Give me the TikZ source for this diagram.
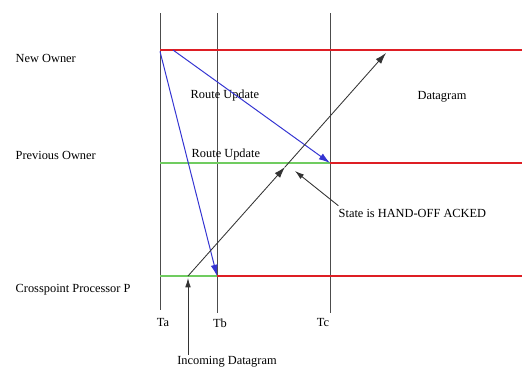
\documentclass[tikz,border=0pt]{standalone}
\usepackage{fontspec}
\setmainfont{Liberation Serif}
\usetikzlibrary{arrows.meta, positioning, calc}
\definecolor{busyred}{RGB}{222,30,36}
\definecolor{idlegreen}{RGB}{112,204,96}
\definecolor{msgblue}{RGB}{52,52,210}

\begin{document}
\begin{tikzpicture}[x=0.025cm, y=-0.025cm,
  every node/.style={font=\fontsize{8.8}{10}\selectfont, inner sep=1pt},
  timeline/.style={draw=black!70, line width=0.6pt},
  busy/.style={draw=busyred, line width=2pt},
  idle/.style={draw=idlegreen, line width=0.9pt},
  msg/.style={draw=msgblue, line width=0.7pt, -{Latex[length=8pt,width=5pt]}},
  flow/.style={draw=black!80, line width=0.6pt, -{Latex[length=8pt,width=5pt]}},
  callout/.style={draw=black!80, line width=0.6pt, -{Latex[length=6.5pt,width=4pt]}}]
  % page
  \fill[white] (0,0) rectangle (522,371);
  \useasboundingbox (0,0) rectangle (522,371);

  % points in time
  \coordinate (ta top) at (160,13);
  \coordinate (ta bot) at (160,310);
  \coordinate (tb top) at (217,13);
  \coordinate (tb bot) at (217,313);
  \coordinate (tc top) at (330,13);
  \coordinate (tc bot) at (330,313);
  \draw[timeline] (ta top) -- (ta bot);
  \draw[timeline] (tb top) -- (tb bot);
  \draw[timeline] (tc top) -- (tc bot);

  % rows
  \coordinate (new a) at (160,50);
  \coordinate (new end) at (522,50);
  \coordinate (prev a) at (160,163);
  \coordinate (prev c) at (330,163);
  \coordinate (prev end) at (522,163);
  \coordinate (cp a) at (160,276);
  \coordinate (cp b) at (217,276);
  \coordinate (cp end) at (522,276);
  \draw[idle] (prev a) -- (prev c);
  \draw[idle] (cp a) -- (cp b);
  \draw[busy] (new a) -- (new end);
  \draw[busy] (prev c) -- (prev end);
  \draw[busy] (cp b) -- (cp end);

  % labels
  \node[anchor=west] (newowner) at (14,58) {New Owner};
  \node[anchor=west] (prevowner) at (14,155) {Previous Owner};
  \node[anchor=west] (cproc) at (14,290) {Crosspoint Processor P};
  \node[anchor=west] (ru1) at (189,96) {Route Update};
  \node[anchor=west] (ru2) at (190,155) {Route Update};
  \node (dgram) at (442,97) {Datagram};
  \node (ta) at (163,323) {Ta};
  \node (tb) at (220,323) {Tb};
  \node (tc) at (323,323) {Tc};
  \node[anchor=west] (acked) at (337,213) {State is HAND-OFF ACKED};
  \node (incoming) at (227,362) {Incoming Datagram};

  % route updates
  \coordinate (send) at (173,50);
  \draw[msg] ([yshift=-1pt]new a) -- (cp b);
  \draw[msg] (send) -- (prev c);

  % datagram path
  \coordinate (dg in) at (188,276);
  \coordinate (dg mid) at (285,167);
  \coordinate (dg out) at (386,53);
  \draw[flow] (dg in) -- (dg mid);
  \draw[flow] (dg mid) -- (dg out);

  % callouts
  \coordinate (ack pt) at (295,171);
  \draw[callout] ([xshift=1pt,yshift=1pt]acked.north west) -- (ack pt);
  \draw[callout] (dg in |- incoming.north) -- ([yshift=-1.5pt]dg in);
\end{tikzpicture}
\end{document}
